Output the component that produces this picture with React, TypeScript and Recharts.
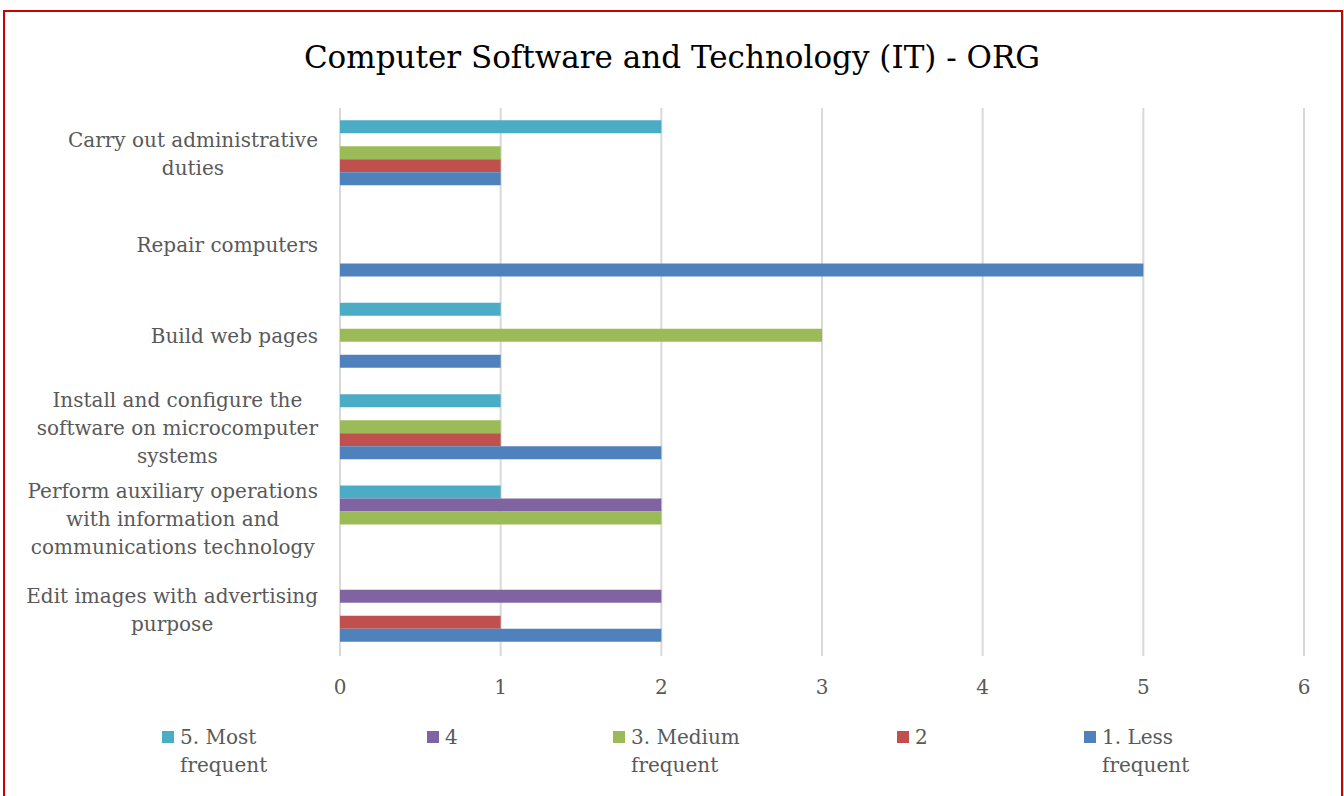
import React from 'react'
import { BarChart, Bar, XAxis, YAxis, CartesianGrid, Legend } from 'recharts'

// categories top to bottom, line breaks as in the original labels
const categories = [
  'Carry out administrative\nduties',
  'Repair computers',
  'Build web pages',
  'Install and configure the\nsoftware on microcomputer\nsystems',
  'Perform auxiliary operations\nwith information and\ncommunications technology',
  'Edit images with advertising\npurpose',
]

const mostFrequent = [2, 0, 1, 1, 1, 0]
const level4 = [0, 0, 0, 0, 2, 2]
const mediumFrequent = [1, 0, 3, 1, 2, 0]
const level2 = [1, 0, 0, 1, 0, 1]
const lessFrequent = [1, 5, 1, 2, 0, 2]

const seriesNames = ['5. Most\nfrequent', '4', '3. Medium\nfrequent', '2', '1. Less\nfrequent']
const xTicks = [0, 1, 2, 3, 4, 5, 6]

const colors = ['#4BACC6', '#8064A2', '#9BBB59', '#C0504D', '#4F81BD']
const legendX = [162, 427, 613, 897, 1084]

const FONT = '"DejaVu Serif", serif'
const TEXT = '#595959'
const LABEL_RIGHT = 318
const LINE_H = 28

const seriesValues = [mostFrequent, level4, mediumFrequent, level2, lessFrequent]
const data = categories.map((category, i) => {
  const row: Record<string, string | number> = { category }
  seriesValues.forEach((vals, s) => {
    row['s' + s] = vals[i]
  })
  return row
})

let ctx: CanvasRenderingContext2D | null = null
function textWidth(s: string, size: number) {
  if (!ctx) ctx = document.createElement('canvas').getContext('2d')
  if (!ctx) return s.length * size * 0.55
  ctx.font = `${size}px "DejaVu Serif"`
  return ctx.measureText(s).width
}

function CategoryTick({ y, payload }: any) {
  const lines = String(payload.value).split('\n')
  const blockW = Math.max(...lines.map((l) => textWidth(l, 20)))
  const cx = LABEL_RIGHT - blockW / 2
  const top = y - ((lines.length - 1) * LINE_H) / 2
  return (
    <text textAnchor="middle" fill={TEXT} fontSize={20} fontFamily={FONT} dominantBaseline="central">
      {lines.map((l, i) => (
        <tspan key={i} x={cx} y={top + i * LINE_H}>
          {l}
        </tspan>
      ))}
    </text>
  )
}

function ValueTick({ x, y, payload }: any) {
  return (
    <text x={x} y={y + 31} textAnchor="middle" dominantBaseline="central" fill={TEXT} fontSize={20} fontFamily={FONT}>
      {payload.value}
    </text>
  )
}

function LegendBlock() {
  return (
    <div style={{ position: 'relative', width: 1344, height: 60 }}>
      {seriesNames.map((name, i) => (
        <div key={name} style={{ position: 'absolute', left: legendX[i], top: 0 }}>
          <div style={{ position: 'absolute', left: 0, top: 8, width: 12, height: 12, background: colors[i] }} />
          <div
            style={{
              position: 'absolute',
              left: 18,
              top: 0,
              whiteSpace: 'pre',
              lineHeight: '28px',
              fontSize: 20,
              fontFamily: FONT,
              color: TEXT,
            }}
          >
            {name}
          </div>
        </div>
      ))}
    </div>
  )
}

export default function App() {
  return (
    <div style={{ position: 'absolute', left: 0, top: 0, width: 1344, height: 796, overflow: 'hidden', background: '#fff' }}>
      <div
        style={{
          position: 'absolute',
          left: 3,
          top: 10,
          width: 1336,
          height: 820,
          border: '2px solid #cc0000',
        }}
      />
      <div
        style={{
          position: 'absolute',
          left: 0,
          top: 37,
          width: 1344,
          textAlign: 'center',
          fontFamily: FONT,
          fontSize: 31,
          lineHeight: '40px',
          color: '#000',
        }}
      >
        Computer Software and Technology (IT) - ORG
      </div>
      <div style={{ position: 'absolute', left: 0, top: 0 }}>
        <BarChart
          width={1344}
          height={796}
          data={data}
          layout="vertical"
          margin={{ top: 108, right: 40, bottom: 100, left: 0 }}
          barCategoryGap="13.3%"
          barGap={0}
        >
          <CartesianGrid horizontal={false} stroke="#d9d9d9" strokeWidth={2} />
          <XAxis
            type="number"
            domain={[0, 6]}
            ticks={xTicks}
            interval={0}
            axisLine={false}
            tickLine={false}
            tickSize={0}
            tickMargin={0}
            height={40}
            tick={<ValueTick />}
          />
          <YAxis
            type="category"
            dataKey="category"
            width={340}
            interval={0}
            axisLine={false}
            tickLine={false}
            tick={<CategoryTick />}
          />
          <Legend
            layout="horizontal"
            verticalAlign="middle"
            align="center"
            wrapperStyle={{ top: 723, left: 0, width: 1344 }}
            content={() => <LegendBlock />}
          />
          {seriesNames.map((name, i) => (
            <Bar key={name} dataKey={'s' + i} name={name} fill={colors[i]} isAnimationActive={false} />
          ))}
        </BarChart>
      </div>
    </div>
  )
}
